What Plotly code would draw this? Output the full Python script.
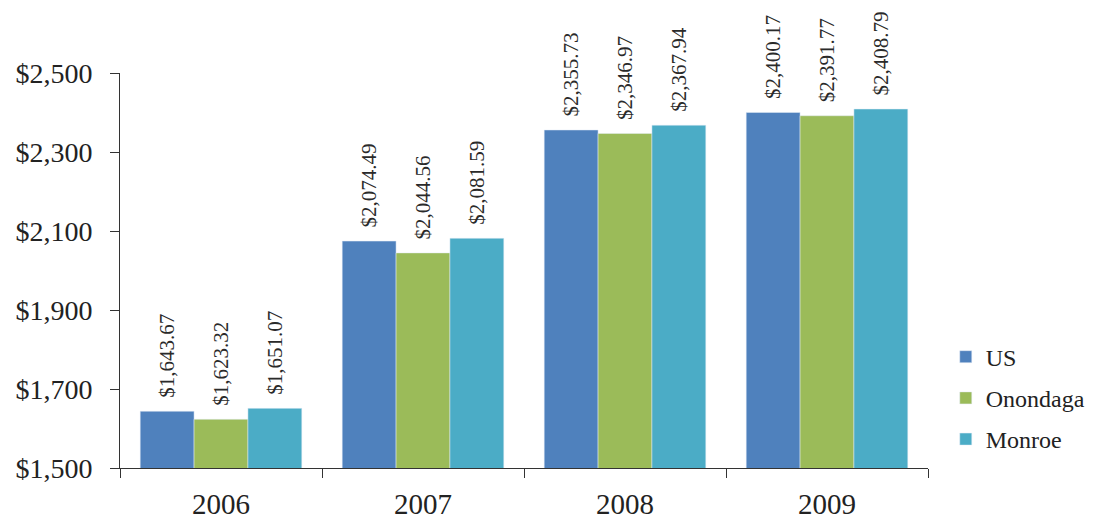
import plotly.graph_objects as go

years = ["2006", "2007", "2008", "2009"]
us = [1643.67, 2074.49, 2355.73, 2400.17]
onondaga = [1623.32, 2044.56, 2346.97, 2391.77]
monroe = [1651.07, 2081.59, 2367.94, 2408.79]

series = [("US", us, "#4F81BD"), ("Onondaga", onondaga, "#9BBB59"), ("Monroe", monroe, "#4BACC6")]

font_family = "Liberation Serif, Times New Roman, serif"

fig = go.Figure()
for name, vals, color in series:
    fig.add_trace(go.Bar(
        x=years, y=vals, name=name, marker_color=color,
        legendgroup=name,
        # leading spaces lift the rotated labels a little off the bars
        text=["\u00a0\u00a0" + f"${v:,.2f}" for v in vals],
        textposition="outside", textangle=-90,
        constraintext="none",
        textfont=dict(family=font_family, size=21, color="#2a2a2a"),
        cliponaxis=False,
    ))

# page has an 8px body margin, so the figure is a bit smaller than the window
fig.update_layout(
    width=1087, height=511,
    margin=dict(l=112, r=167, t=65, b=51, autoexpand=False),
    plot_bgcolor="white", paper_bgcolor="white",
    barmode="group", bargap=0.2, bargroupgap=0,
    font=dict(family=font_family, color="#222"),
    legend=dict(x=1.022, y=0.177, xanchor="left", yanchor="middle",
                font=dict(size=24, family=font_family, color="#222"),
                itemwidth=30, tracegroupgap=7),
)
fig.update_xaxes(
    showline=True, linecolor="#333", linewidth=1,
    ticks="outside", tickson="boundaries", ticklen=9, tickcolor="#333",
    tickfont=dict(size=29, family=font_family, color="#222"),
    ticklabelstandoff=10, automargin=False,
)
fig.update_yaxes(
    range=[1500, 2500], tick0=1500, dtick=200, tickformat="$,",
    showline=True, linecolor="#333", linewidth=1,
    ticks="outside", ticklen=9, tickcolor="#333",
    showgrid=False, zeroline=False, automargin=False,
    ticklabelstandoff=12,
    tickfont=dict(size=28, family=font_family, color="#222"),
)

fig.write_html("out.html")
